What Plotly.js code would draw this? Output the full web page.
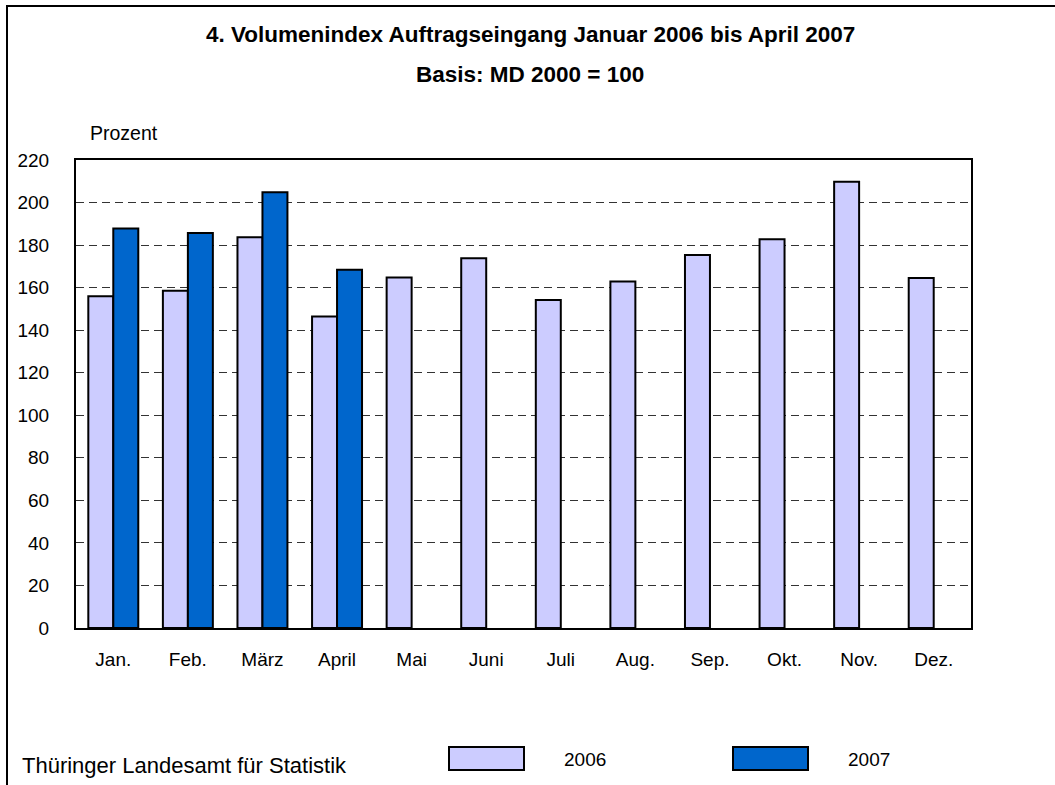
<!DOCTYPE html>
<html>
<head>
<meta charset="utf-8">
<script src="https://cdn.plot.ly/plotly-3.0.1.min.js"></script>
<style>
html,body{margin:0;padding:0;background:#fff;}
#chart{width:1055px;height:785px;}
</style>
</head>
<body>
<div id="chart"></div>
<script>
const months = ["Jan.", "Feb.", "März", "April", "Mai", "Juni", "Juli", "Aug.", "Sep.", "Okt.", "Nov.", "Dez."];
const values2006 = [156, 158.5, 183.7, 146.4, 164.8, 173.8, 154.2, 162.9, 175.3, 182.8, 209.8, 164.5];
const values2007 = [187.8, 185.7, 204.8, 168.4, null, null, null, null, null, null, null, null];
const seriesNames = ["2006", "2007"];
const seriesColors = ["#CCCCFF", "#0066CC"];
const yTicks = [0, 20, 40, 60, 80, 100, 120, 140, 160, 180, 200, 220];

const FONT = "Liberation Sans, Arial, sans-serif";

// plot area in pixels
const L = 76, R = 971, T = 160, B = 628;
const px = x => (x - L) / (R - L);
const py = y => (B - y) / (B - T);

const traces = [values2006, values2007].map((vals, i) => ({
  type: "bar",
  x: months,
  y: vals,
  name: seriesNames[i],
  marker: {color: seriesColors[i], line: {color: "#000", width: 2}},
  hoverinfo: "x+y+name"
}));

const shapes = [
  // outer frame
  {type: "rect", xref: "paper", yref: "paper", x0: px(7), x1: px(1062), y0: py(6), y1: py(800),
   line: {color: "#000", width: 2}, fillcolor: "rgba(0,0,0,0)", layer: "below"}
];
const annotations = [
  {text: "<b>4. Volumenindex Auftragseingang Januar 2006 bis April 2007</b>", x: px(530), y: py(34),
   xref: "paper", yref: "paper", showarrow: false, xanchor: "center", yanchor: "middle",
   font: {family: FONT, size: 22.5, color: "#000"}},
  {text: "<b>Basis: MD 2000 = 100</b>", x: px(530), y: py(74),
   xref: "paper", yref: "paper", showarrow: false, xanchor: "center", yanchor: "middle",
   font: {family: FONT, size: 22.5, color: "#000"}},
  {text: "Prozent", x: px(88), y: py(133), xref: "paper", yref: "paper", showarrow: false,
   xanchor: "left", yanchor: "middle", font: {family: FONT, size: 19.5, color: "#000"}},
  {text: "Thüringer Landesamt für Statistik", x: px(20), y: py(765), xref: "paper", yref: "paper",
   showarrow: false, xanchor: "left", yanchor: "middle", font: {family: FONT, size: 22, color: "#000"}}
];
// legend built from series
const legendBoxX = [449, 733];
seriesNames.forEach((name, i) => {
  shapes.push({type: "rect", xref: "paper", yref: "paper",
    x0: px(legendBoxX[i]), x1: px(legendBoxX[i] + 75), y0: py(747), y1: py(770),
    fillcolor: seriesColors[i], line: {color: "#000", width: 2}});
  annotations.push({text: name, x: px(legendBoxX[i] + 113), y: py(759), xref: "paper", yref: "paper",
    showarrow: false, xanchor: "left", yanchor: "middle", font: {family: FONT, size: 19, color: "#000"}});
});

const layout = {
  width: 1055, height: 785,
  margin: {l: L, r: 1055 - R, t: T, b: 785 - B, pad: 0},
  paper_bgcolor: "#fff", plot_bgcolor: "#fff",
  showlegend: false,
  barmode: "group",
  bargap: 0.33,
  bargroupgap: 0,
  font: {family: FONT, size: 19, color: "#000"},
  xaxis: {
    type: "category", categoryorder: "array", categoryarray: months,
    showline: true, linecolor: "#000", linewidth: 2, mirror: true,
    ticks: "", showgrid: false, ticklabelstandoff: 13,
    tickfont: {family: FONT, size: 19, color: "#000"}
  },
  yaxis: {
    range: [0, 220], tickvals: yTicks, ticktext: yTicks.map(String),
    showline: true, linecolor: "#000", linewidth: 2, mirror: true,
    ticks: "", showgrid: true, gridcolor: "#333", gridwidth: 1, griddash: "8px,5px",
    zeroline: false, ticklabelstandoff: 21,
    tickfont: {family: FONT, size: 19, color: "#000"}
  },
  shapes: shapes,
  annotations: annotations
};

Plotly.newPlot("chart", traces, layout, {displayModeBar: false, staticPlot: true});
</script>
</body>
</html>
